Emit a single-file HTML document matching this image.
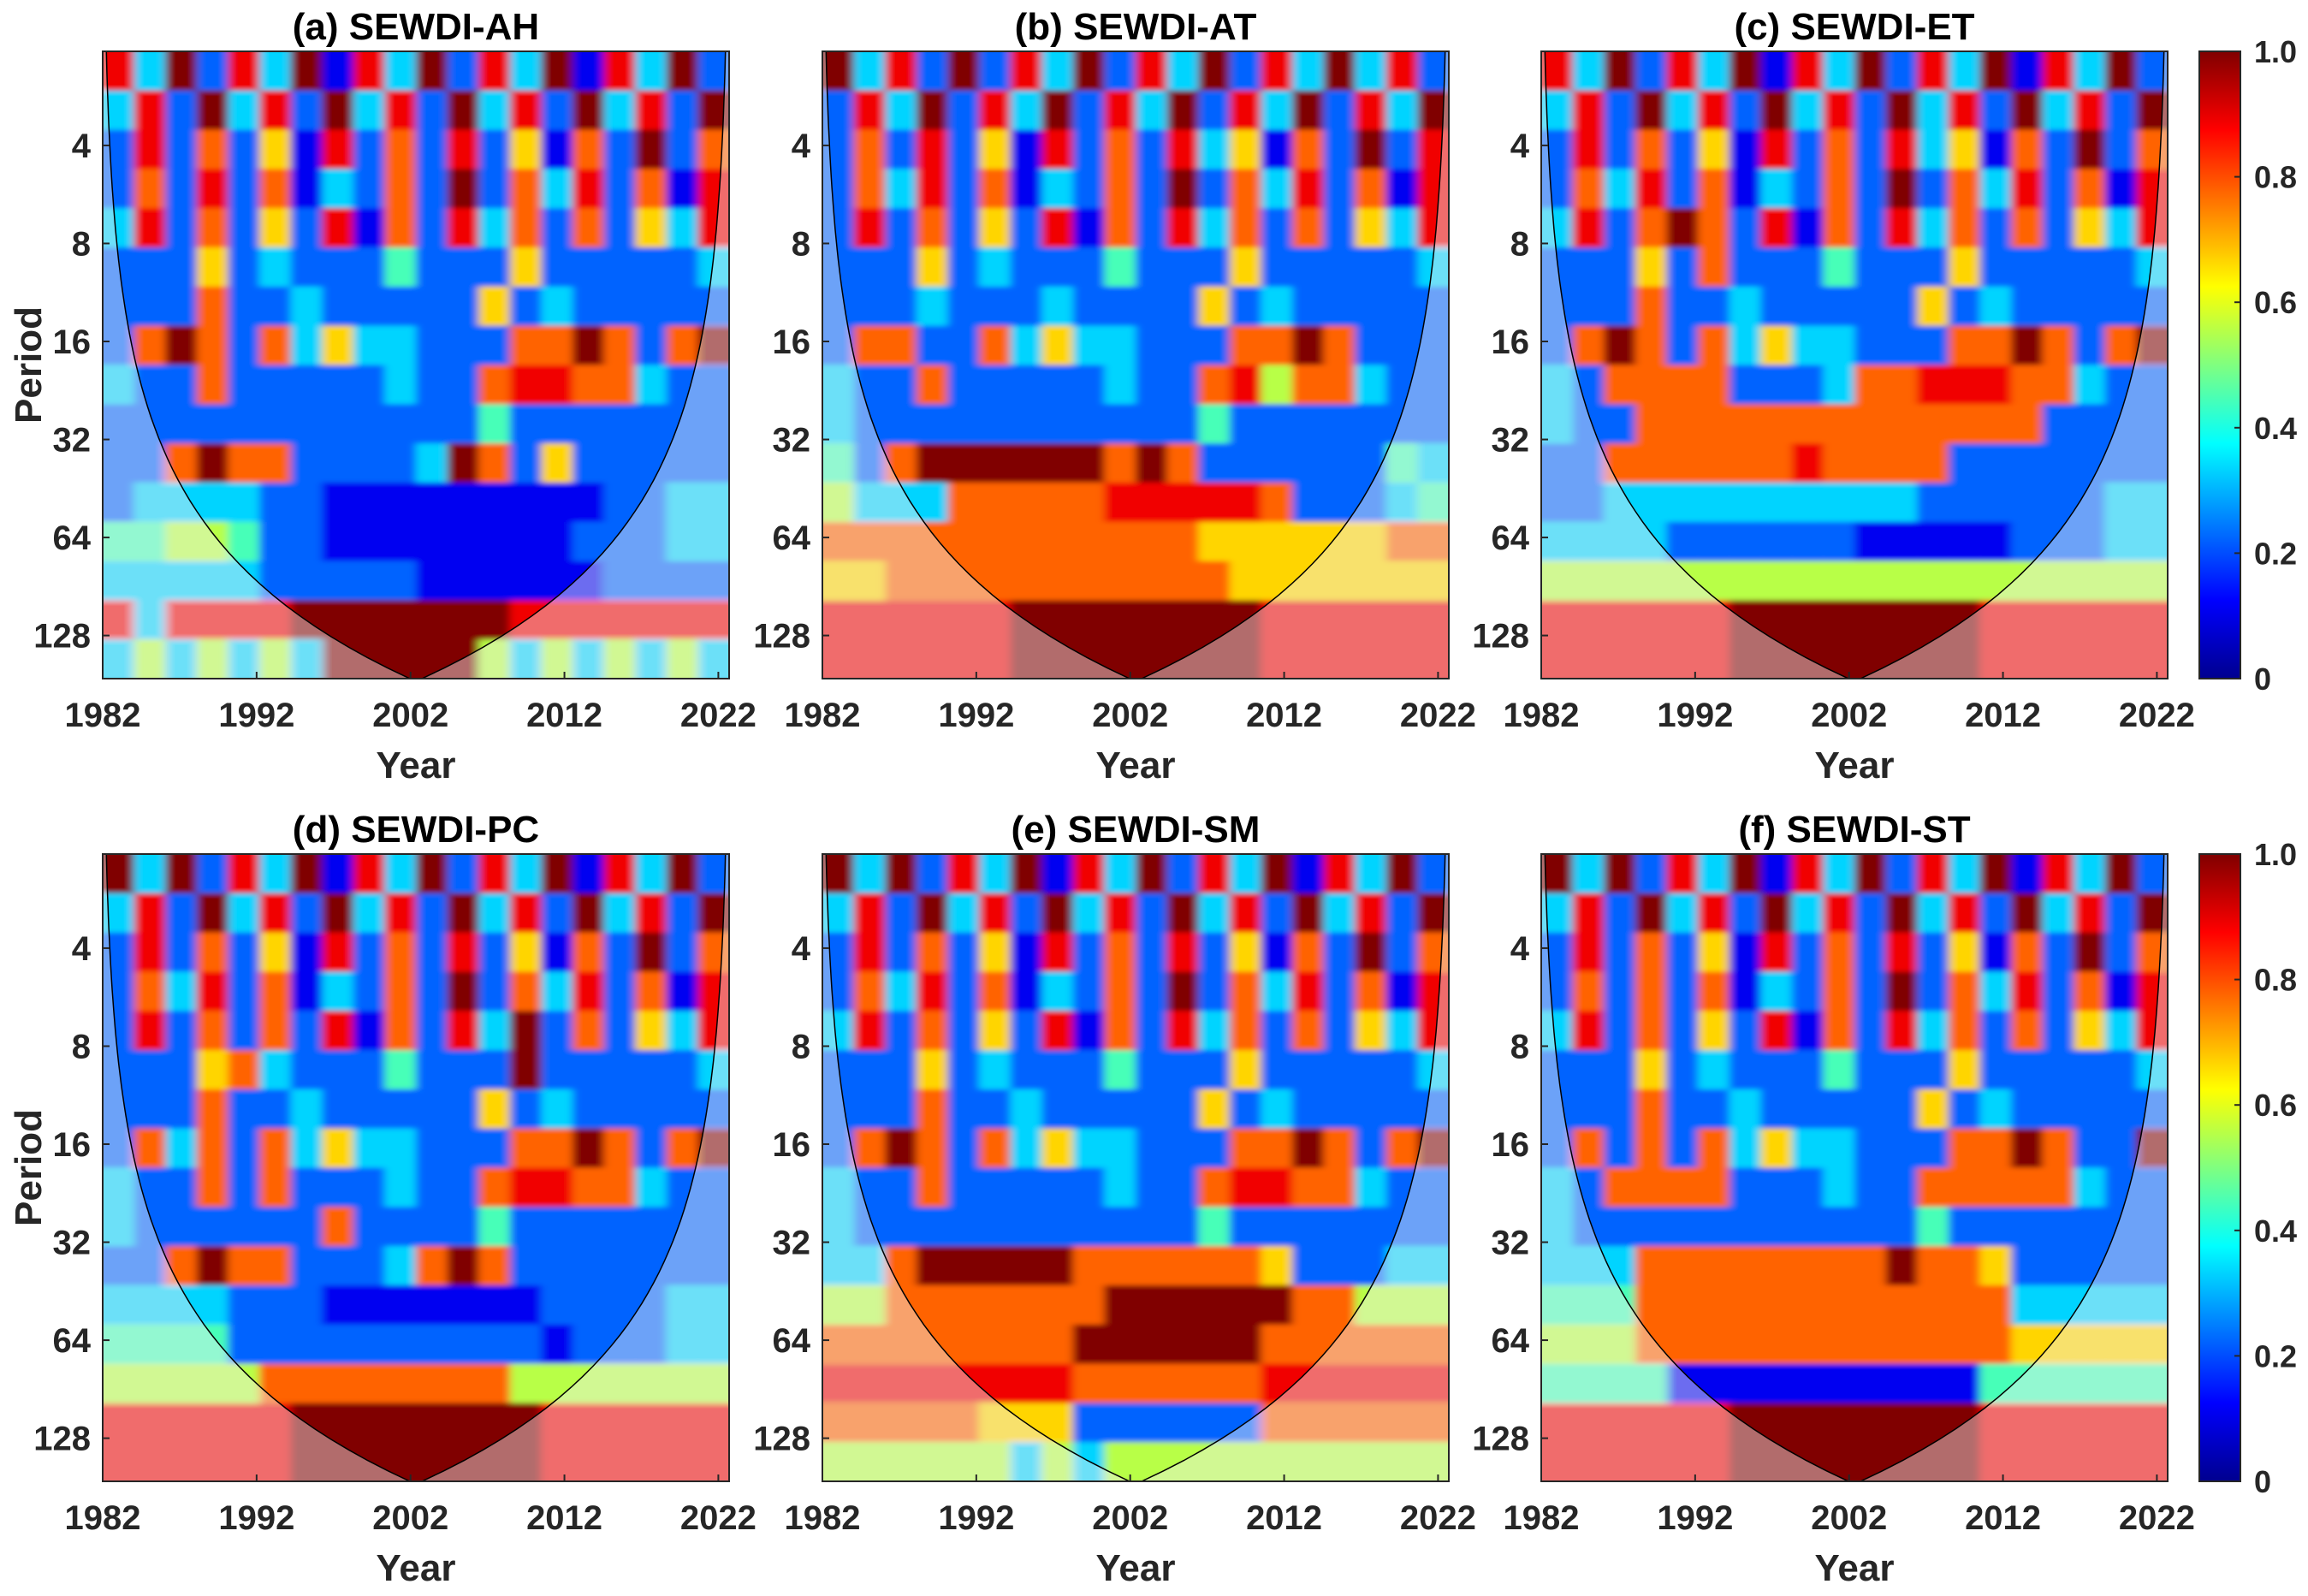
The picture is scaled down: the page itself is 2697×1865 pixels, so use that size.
<!DOCTYPE html>
<html><head><meta charset="utf-8"><style>
html,body{margin:0;padding:0;background:#fff;}
svg{display:block;font-family:"Liberation Sans",Arial,sans-serif;}
</style></head><body>
<svg id="fig" width="2697" height="1865" viewBox="0 0 2697 1865" xmlns="http://www.w3.org/2000/svg">
<defs>
<linearGradient id="jet" x1="0" y1="1" x2="0" y2="0">
<stop offset="0" stop-color="#00008f"/><stop offset="0.125" stop-color="#0000ff"/><stop offset="0.375" stop-color="#00ffff"/><stop offset="0.625" stop-color="#ffff00"/><stop offset="0.875" stop-color="#ff0000"/><stop offset="1" stop-color="#800000"/>
</linearGradient>
<filter id="soft" x="0" y="0" width="1" height="1"><feGaussianBlur stdDeviation="5 3"/></filter>
</defs>
</svg>
<script>
// ---- data ----
const titles = ["(a) SEWDI-AH","(b) SEWDI-AT","(c) SEWDI-ET","(d) SEWDI-PC","(e) SEWDI-SM","(f) SEWDI-ST"];
const yearTicks = [1982,1992,2002,2012,2022];
const periodTicks = [4,8,16,32,64,128];
const cbTicks = [0,0.2,0.4,0.6,0.8,1.0];
const cbLabels = ["0","0.2","0.4","0.6","0.8","1.0"];
// coherence grids: 16 period bands (short->long) x 20 two-year columns, digit = coherence*9
const gridA = ["83928391839283918392","38293829382938293829","28272618272826172927","27282713272927382718","38272628172837272638","22262322242226222223","22272232222262322222","27972736332227797279","32272222232278877322","22222222222242222222","22797722223972622222","23333221111111112233","44554221111111122233","33333222221111112222","83888899999998888888","35353539999953535353"];
const gridB = ["93829283928392839382","28392839283928392839","27282618272836172928","27382713272927382718","28272628172837272638","22262322242226222223","22232223222262322222","27722736332227797222","32272222232278577322","32222222222242222222","42799999979722222243","53337777788888722234","77777777777766666677","66777777777776666666","88888899999999888888","88888899999999888888"];
const gridC = ["83928391839283918392","38293829382938293829","28272618272836172927","27382713272927382718","38279728172837272638","22262722242226222223","22272232222262322222","27972736332227797279","32777722237788877322","32277777777777772222","22777777877772222222","22333333333322222233","33332222221111122233","55555555555555555555","88888899999999888888","88888899999999888888"];
const gridD = ["93928391839283918392","38293829382938293829","28272618272826172927","27382713272927382718","28272728172839272638","22267322242229222223","22272232222262322222","27372736332227797279","32272722232278877322","32222227222242222222","22797722237972222222","33332221111111222233","44442222222222122233","55555777777775555555","88888899999999888888","88888899999999888888"];
const gridE = ["93928391839283918392","38293829382938293829","28272618272826172927","27382713272927382718","38272628172837272638","22262322242226222223","22272232222262322222","27972736332227797279","32272222232278877322","32222222222242222222","33799999777777622233","55777777799999977555","77777777999999777777","88888888777777888888","77777666222222777777","55555535355555555555"];
const gridF = ["93928391839283918392","38293829382938293829","28272618272826172927","27272713272927382718","38272628172837272638","22262322242226222223","22272232222262322222","27272736332227797229","32777722232277777322","32222222222242222222","33377777777977622222","44477777777777733333","55577777777777766666","44441111111111444444","88888899999999888888","88888899999999888888"];
const grids = [gridA,gridB,gridC,gridD,gridE,gridF];

// ---- layout ----
const NS="http://www.w3.org/2000/svg";
const svg=document.getElementById('fig');
const defs=svg.querySelector('defs');
const X0=[120,961,1801], Y0=[60,998], W=732, H=733;
const Y_START=1982, Y_SPAN=40.7;
const L_TOP=1.04, L_BOT=7.44;
function el(tag,attrs,parent){const e=document.createElementNS(NS,tag);for(const k in attrs)e.setAttribute(k,attrs[k]);(parent||svg).appendChild(e);return e;}
function jet(v){const c=x=>Math.round(255*Math.max(0,Math.min(1,x)));return `rgb(${c(1.5-Math.abs(4*v-3))},${c(1.5-Math.abs(4*v-2))},${c(1.5-Math.abs(4*v-1))})`;}

for(let p=0;p<6;p++){
  const x0=X0[p%3], y0=Y0[Math.floor(p/3)];
  const xs=yr=>x0+(yr-Y_START)/Y_SPAN*W;
  const ys=per=>y0+(Math.log2(per)-L_TOP)/(L_BOT-L_TOP)*H;
  const cp=el('clipPath',{id:'clip'+p},defs);
  el('rect',{x:x0,y:y0,width:W,height:H},cp);
  const g=el('g',{});
  
  
  const grid=grids[p], nr=grid.length, nc=grid[0].length;
  const cw=W/nc, ch=H/nr;
  const clipG=el('g',{'clip-path':`url(#clip${p})`},g);
  const hm=el('g',{filter:'url(#soft)'},clipG);
  
  
  for(let r=0;r<nr;r++)for(let c=0;c<nc;c++){
    const v=+grid[r][c]/9;
    const rc=el('rect',{x:(x0+c*cw-(c===0?10:0)).toFixed(1),y:(y0+r*ch-(r===0?10:0)).toFixed(1),width:(cw+0.6+(c===0||c===nc-1?10:0)).toFixed(1),height:(ch+0.6+(r===0||r===nr-1?10:0)).toFixed(1),fill:jet(v)},hm);
    
    
  }
  // cone of influence
  const yMid=Y_START+Y_SPAN/2;
  let pts=[];
  for(let i=0;i<=60;i++){const l=L_TOP+(L_BOT-L_TOP)*i/60;const per=Math.pow(2,l);const d=per/8.7;pts.push([xs(Y_START+Math.min(d,Y_SPAN/2)),ys(per)]);}
  let right=pts.map(q=>[2*xs(yMid)-q[0],q[1]]).reverse();
  const cone=pts.concat(right);
  const coneStr=cone.map(q=>q[0].toFixed(1)+','+q[1].toFixed(1)).join(' ');
  const outside=`M${x0},${y0} L${coneStr.split(' ').join(' L')} L${x0+W},${y0} L${x0+W},${y0+H} L${x0},${y0+H} Z`;
  const ov=el('path',{d:outside,fill:'#f0f0f0','fill-opacity':0.45,'fill-rule':'evenodd'},clipG);
  
  
  const cl=el('polyline',{points:coneStr,fill:'none',stroke:'#000','stroke-width':1.5},clipG);
  
  
  const box=el('rect',{x:x0,y:y0,width:W,height:H,fill:'none',stroke:'#262626','stroke-width':2},g);
  
  
  yearTicks.forEach(yr=>{
    const x=xs(yr);
    el('line',{x1:x,y1:y0+H,x2:x,y2:y0+H-8,stroke:'#262626','stroke-width':2},g);
    const t=el('text',{x:x,y:y0+H+56,'text-anchor':'middle','font-size':40,'font-weight':'bold',fill:'#262626'},g);
    t.textContent=yr;
    
    
  });
  periodTicks.forEach(per=>{
    const y=ys(per);
    el('line',{x1:x0,y1:y,x2:x0+8,y2:y,stroke:'#262626','stroke-width':2},g);
    const t=el('text',{x:x0-14,y:y+14,'text-anchor':'end','font-size':40,'font-weight':'bold',fill:'#262626'},g);
    t.textContent=per;
    
    
  });
  const tt=el('text',{x:x0+W/2,y:y0-14,'text-anchor':'middle','font-size':44,'font-weight':'bold',fill:'#000'},g);
  tt.textContent=titles[p];
  
  
  const xl=el('text',{x:x0+W/2,y:y0+H+116,'text-anchor':'middle','font-size':44,'font-weight':'bold',fill:'#262626'},g);
  xl.textContent='Year';
  
  
  if(p%3===0){
    const cy=y0+H/2;
    const yl=el('text',{x:48,y:cy,'text-anchor':'middle','font-size':44,'font-weight':'bold',fill:'#262626',transform:`rotate(-90 48 ${cy})`},g);
    yl.textContent='Period';
    
    
  }
}
// colorbars
for(let r=0;r<2;r++){
  const y0=Y0[r], cx=2570, cwid=48;
  const cb=el('g',{});
  
  
  el('rect',{x:cx,y:y0,width:cwid,height:H,fill:'url(#jet)',stroke:'#262626','stroke-width':2},cb);
  cbTicks.forEach((v,i)=>{
    const y=y0+H-v*H;
    el('line',{x1:cx+cwid-7,y1:y,x2:cx+cwid,y2:y,stroke:'#262626','stroke-width':2},cb);
    const t=el('text',{x:cx+cwid+16,y:y+13,'font-size':36,'font-weight':'bold',fill:'#262626'},cb);
    t.textContent=cbLabels[i];
    
    
  });
}
</script>
</body></html>
